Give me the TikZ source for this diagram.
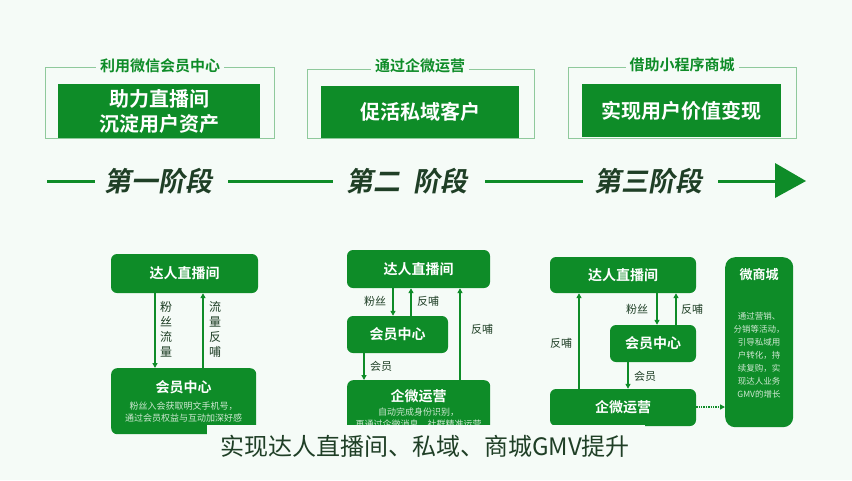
\documentclass[tikz,border=0pt]{standalone}
\usepackage{fontspec}
\setmainfont{Noto Sans CJK SC}[BoldFont={* Bold}]
\newfontfamily\cjk{Noto Sans CJK SC}[BoldFont={* Bold}]
\usetikzlibrary{arrows.meta,positioning}
\definecolor{bg}{HTML}{F5FBF7}
\definecolor{gr}{HTML}{0E8C28}
\definecolor{lgr}{HTML}{8FC99C}
\definecolor{dk}{HTML}{1F3F26}
\definecolor{soft}{HTML}{CFE8D2}
\tikzset{
  gbox/.style={fill=gr,draw=none,text=white,font=\cjk\bfseries\fontsize{14}{16}\selectfont,rounded corners=6pt,inner sep=0pt},
  topbox/.style={fill=gr,draw=none,text=white,font=\cjk\bfseries\fontsize{20}{25}\selectfont,align=center,inner sep=0pt},
  frame/.style={draw=lgr,line width=0.8pt},
  framelabel/.style={fill=bg,text=gr,font=\cjk\bfseries\fontsize{15}{17}\selectfont,inner xsep=4pt,inner ysep=1pt},
  stage/.style={text=dk,font=\cjk\bfseries\fontsize{27}{30}\selectfont,xslant=0.18,transform shape},
  tline/.style={draw=gr,line width=3pt},
  flow/.style={draw=gr,line width=1.6pt,-{Triangle[length=5pt,width=5pt]}},
  lab/.style={text=dk,font=\cjk\fontsize{11}{13}\selectfont,inner sep=1pt},
  small/.style={text=soft,font=\cjk\fontsize{9}{12}\selectfont,align=center,inner sep=0pt},
}
\begin{document}
\begin{tikzpicture}[x=1pt,y=-1pt]
\path[use as bounding box,fill=bg] (0,0) rectangle (852,480);

% ---- top frames ----
\draw[frame] (45,67) rectangle (274,138);
\node[topbox,minimum width=202pt,minimum height=54pt] (t1) at (159,111) {助力直播间\\沉淀用户资产};
\node[framelabel] (f1) at (160,66) {利用微信会员中心};

\draw[frame] (307,69) rectangle (534,138);
\node[topbox,minimum width=198pt,minimum height=52pt] (t2) at (420,112) {促活私域客户};
\node[framelabel] (f2) at (420,66) {通过企微运营};

\draw[frame] (568,67) rectangle (796,138);
\node[topbox,minimum width=199pt,minimum height=53pt] (t3) at (681.5,110.5) {实现用户价值变现};
\node[framelabel] (f3) at (682,65) {借助小程序商城};

% ---- timeline ----
\coordinate (l0) at (47,181);
\coordinate (l1) at (95,181);
\coordinate (l2) at (228,181);
\coordinate (l3) at (333,181);
\coordinate (l4) at (485,181);
\coordinate (l5) at (583,181);
\coordinate (l6) at (718,181);
\coordinate (l7) at (778,181);
\draw[tline] (l0) -- (l1);
\draw[tline] (l2) -- (l3);
\draw[tline] (l4) -- (l5);
\draw[tline] (l6) -- (l7);
\fill[gr] (775,163) -- (806,181) -- (775,198) -- cycle;
\node[stage] (s1) at (160,181) {第一阶段};
\node[stage] (s2) at (409,181) {第二\hspace{0.5em}阶段};
\node[stage] (s3) at (650,181) {第三阶段};

% ---- section 1 ----
\node[gbox,minimum width=147pt,minimum height=39pt] (a1) at (184.5,273.5) {达人直播间};
\node[gbox,minimum width=145pt,minimum height=66pt,anchor=north west] (b1) at (111,368) {};
\node[text=white,font=\cjk\bfseries\fontsize{14}{16}\selectfont] (b1t) at (183.5,387) {会员中心};
\node[small] (b1s) at (183.5,412) {粉丝入会获取明文手机号，\\通过会员权益与互动加深好感};
\draw[flow] (155,0 |- a1.south) -- (155,0 |- b1.north);
\draw[flow] (203,0 |- b1.north) -- (203,0 |- a1.south);
\node[lab,align=center,font=\cjk\fontsize{12}{15}\selectfont] (la1) at (166,329) {粉\\丝\\流\\量};
\node[lab,align=center,font=\cjk\fontsize{12}{15}\selectfont] (la2) at (215,329) {流\\量\\反\\哺};

% ---- section 2 ----
\node[gbox,minimum width=143pt,minimum height=38pt] (a2) at (418.5,269) {达人直播间};
\node[gbox,minimum width=101pt,minimum height=37pt] (b2) at (397.5,334.5) {会员中心};
\node[gbox,minimum width=143pt,minimum height=60pt,anchor=north west] (c2) at (347,380) {};
\node[text=white,font=\cjk\bfseries\fontsize{14}{16}\selectfont] (c2t) at (418.5,396) {企微运营};
\node[small] (c2s) at (418.5,418) {自动完成身份识别，\\再通过企微消息、社群精准运营};
\draw[flow] (393,0 |- a2.south) -- (393,0 |- b2.north);
\draw[flow] (411,0 |- b2.north) -- (411,0 |- a2.south);
\draw[flow] (364,0 |- b2.south) -- (364,0 |- c2.north);
\draw[flow] (460,0 |- c2.north) -- (460,0 |- a2.south);
\node[lab] (l21) at (375,301) {粉丝};
\node[lab] (l22) at (428,301) {反哺};
\node[lab] (l23) at (381,366) {会员};
\node[lab] (l24) at (482,329) {反哺};

% ---- section 3 ----
\node[gbox,minimum width=146pt,minimum height=36pt] (a3) at (623,275) {达人直播间};
\node[gbox,minimum width=86pt,minimum height=37pt] (b3) at (653,343.5) {会员中心};
\node[gbox,minimum width=146pt,minimum height=37pt] (c3) at (623,407.5) {企微运营};
\node[gbox,rounded corners=10pt,minimum width=68pt,minimum height=170pt,anchor=north west] (d3) at (725,257) {};
\node[text=white,font=\cjk\bfseries\fontsize{13}{15}\selectfont] (d3t) at (759,275) {微商城};
\node[small,font=\cjk\fontsize{8.5}{13}\selectfont] (d3s) at (759,355) {通过营销、\\分销等活动，\\引导私域用\\户转化，持\\续复购，实\\现达人业务\\GMV的增长};
\draw[flow] (657,0 |- a3.south) -- (657,0 |- b3.north);
\draw[flow] (676,0 |- b3.north) -- (676,0 |- a3.south);
\draw[flow] (628,0 |- b3.south) -- (628,0 |- c3.north);
\draw[flow] (579,0 |- c3.north) -- (579,0 |- a3.south);
\draw[draw=gr,line width=1.4pt,densely dotted,-{Triangle[length=5pt,width=5pt]}] (c3.east |- 0,407) -- (d3.west |- 0,407);
\node[lab] (l31) at (637,309) {粉丝};
\node[lab] (l32) at (692,309) {反哺};
\node[lab] (l33) at (645,376) {会员};
\node[lab] (l34) at (561,343) {反哺};

% ---- caption ----
\fill[bg] (207,425) rectangle (645,480);
\node[text=dk,font=\cjk\fontsize{24}{27}\selectfont] (cap) at (425,446) {实现达人直播间、私域、商城GMV提升};
\end{tikzpicture}
\end{document}
